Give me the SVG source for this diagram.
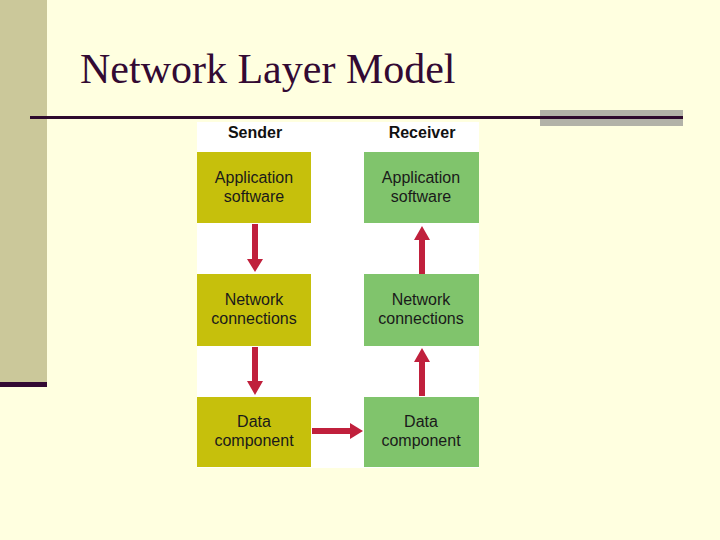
<svg xmlns="http://www.w3.org/2000/svg" width="720" height="540" viewBox="0 0 720 540">
<defs>
<style>
.lbl{font-family:"Liberation Sans",Arial,sans-serif;font-size:16px;fill:#1a1a1a;text-anchor:middle}
.hd{font-family:"Liberation Sans",Arial,sans-serif;font-size:16px;font-weight:bold;fill:#111;text-anchor:middle}
.snd{fill:#c6c00c}
.rcv{fill:#80c46c}
.arr{fill:#c0203c}
</style>
</defs>
<rect x="0" y="0" width="720" height="540" fill="#ffffe0"/>
<rect x="0" y="0" width="47" height="382" fill="#cbc89a"/>
<rect x="0" y="382" width="47" height="5" fill="#330a33"/>
<rect x="540" y="110" width="143" height="16" fill="#b2b2a8"/>
<rect x="30" y="116" width="653" height="3" fill="#2e0a2e"/>
<text x="80" y="83" font-family="Liberation Serif,'Times New Roman',serif" font-size="42" fill="#330a33">Network Layer Model</text>
<rect x="197" y="122" width="282" height="346" fill="#ffffff"/>
<text class="hd" x="255" y="138">Sender</text>
<text class="hd" x="422" y="138">Receiver</text>
<g id="connectors">
<polygon class="arr" points="252,224 258,224 258,259 263,259 255,272 247,259 252,259"/>
<polygon class="arr" points="252,347 258,347 258,381 263,381 255,395 247,381 252,381"/>
<polygon class="arr" points="419,274 425,274 425,240 430,240 422,226 414,240 419,240"/>
<polygon class="arr" points="419,396 425,396 425,362 430,362 422,348 414,362 419,362"/>
<polygon class="arr" points="312,428 350,428 350,423 363,431 350,439 350,434 312,434"/>
</g>
<g id="sender-app"><rect class="snd" x="197" y="152" width="114" height="71"/><text class="lbl" x="254" y="183">Application</text><text class="lbl" x="254" y="202">software</text></g>
<g id="sender-net"><rect class="snd" x="197" y="274" width="114" height="72"/><text class="lbl" x="254" y="305">Network</text><text class="lbl" x="254" y="324">connections</text></g>
<g id="sender-data"><rect class="snd" x="197" y="397" width="114" height="70"/><text class="lbl" x="254" y="427">Data</text><text class="lbl" x="254" y="446">component</text></g>
<g id="receiver-app"><rect class="rcv" x="364" y="152" width="115" height="71"/><text class="lbl" x="421" y="183">Application</text><text class="lbl" x="421" y="202">software</text></g>
<g id="receiver-net"><rect class="rcv" x="364" y="274" width="115" height="72"/><text class="lbl" x="421" y="305">Network</text><text class="lbl" x="421" y="324">connections</text></g>
<g id="receiver-data"><rect class="rcv" x="364" y="397" width="115" height="70"/><text class="lbl" x="421" y="427">Data</text><text class="lbl" x="421" y="446">component</text></g>
</svg>
